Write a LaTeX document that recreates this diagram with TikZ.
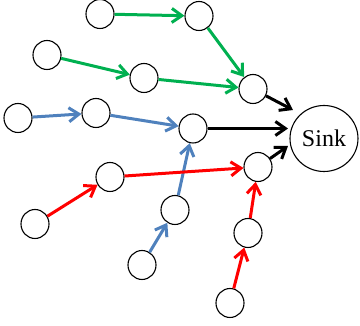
\documentclass[tikz,border=0pt]{standalone}
\usepackage{fontspec}
\setmainfont{Liberation Serif}
\usetikzlibrary{arrows.meta,shapes.geometric}
\definecolor{mgreen}{RGB}{0,176,80}
\definecolor{mblue}{RGB}{79,129,189}
\definecolor{mred}{RGB}{255,0,0}
\begin{document}
\begin{tikzpicture}[x=1pt,y=-1pt,
  nd/.style={draw,line width=1.1pt,ellipse,minimum width=28pt,minimum height=29pt,inner sep=0pt},
  sinknode/.style={draw,line width=1.1pt,ellipse,minimum width=68pt,minimum height=66pt,inner sep=0pt,font=\fontsize{24}{28}\selectfont},
  arr/.style={line width=3pt,-{Straight Barb[length=10pt,width=14pt,line width=3pt]}},
  g/.style={arr,mgreen},
  b/.style={arr,mblue},
  r/.style={arr,mred},
  k/.style={arr,black}]
\useasboundingbox (0,0) rectangle (360,326);
\node[nd] (n1) at (100,14) {};
\node[nd] (n2) at (47,55) {};
\node[nd] (n3) at (144,78) {};
\node[nd] (n4) at (18,118) {};
\node[nd] (n5) at (96,113) {};
\node[nd] (n6) at (199,16) {};
\node[nd] (n7) at (253,89) {};
\node[nd] (n8) at (193,128.5) {};
\node[nd] (n9) at (258,167) {};
\node[nd] (n10) at (110,177) {};
\node[nd] (n11) at (35,224) {};
\node[nd] (n12) at (175,210) {};
\node[nd] (n13) at (142,265) {};
\node[nd] (n14) at (248,233) {};
\node[nd] (n15) at (230,303) {};
\node[sinknode] (sink) at (324,138.5) {Sink};
\coordinate (t1) at (293,110);
\coordinate (t2) at (288,128.5);
\coordinate (t3) at (288,146);
\draw[g] (n1) -- (n6);
\draw[g] (n2) -- (n3);
\draw[g] (n3) -- (n7);
\draw[g] (n6) -- (n7);
\draw[b] (n4) -- (n5);
\draw[b] (n5) -- (n8);
\draw[b] (n13) -- (n12);
\draw[b] (n12) -- (n8);
\draw[r] (n11) -- (n10);
\draw[r] (n10) -- (n9);
\draw[r] (n15) -- (n14);
\draw[r] (n14) -- (n9);
\draw[k] (n7) -- (t1);
\draw[k] (n8) -- (t2);
\draw[k] (n9) -- (t3);
\end{tikzpicture}
\end{document}
